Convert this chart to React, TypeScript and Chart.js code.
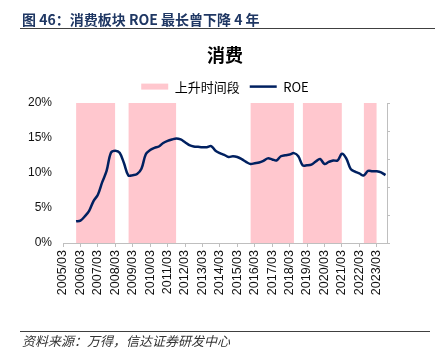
import React, { useEffect, useRef } from "react";
import { Chart, registerables } from "chart.js";

Chart.register(...registerables);

// Quarter categories of the x axis
const quarters: string[] = [
  "2005/03", "2005/06", "2005/09", "2005/12",
  "2006/03", "2006/06", "2006/09", "2006/12",
  "2007/03", "2007/06", "2007/09", "2007/12",
  "2008/03", "2008/06", "2008/09", "2008/12",
  "2009/03", "2009/06", "2009/09", "2009/12",
  "2010/03", "2010/06", "2010/09", "2010/12",
  "2011/03", "2011/06", "2011/09", "2011/12",
  "2012/03", "2012/06", "2012/09", "2012/12",
  "2013/03", "2013/06", "2013/09", "2013/12",
  "2014/03", "2014/06", "2014/09", "2014/12",
  "2015/03", "2015/06", "2015/09", "2015/12",
  "2016/03", "2016/06", "2016/09", "2016/12",
  "2017/03", "2017/06", "2017/09", "2017/12",
  "2018/03", "2018/06", "2018/09", "2018/12",
  "2019/03", "2019/06", "2019/09", "2019/12",
  "2020/03", "2020/06", "2020/09", "2020/12",
  "2021/03", "2021/06", "2021/09", "2021/12",
  "2022/03", "2022/06", "2022/09", "2022/12",
  "2023/03", "2023/06", "2023/09",
];

// Tick labels shown on the x axis
const tickLabels: string[] = [
  "2005/03", "2006/03", "2007/03", "2008/03", "2009/03", "2010/03",
  "2011/03", "2012/03", "2013/03", "2014/03", "2015/03", "2016/03",
  "2017/03", "2018/03", "2019/03", "2020/03", "2021/03", "2022/03",
  "2023/03",
];

// ROE series (%), quarterly from 2005/12 to 2023/09
const roeStart = "2005/12";
const roe: number[] = [
  3.1, 3.2, 3.8, 4.6, 6.0, 6.9, 8.7, 10.3, 12.9,
  13.2, 12.9, 11.4, 9.65, 9.7, 9.85, 10.6, 12.7, 13.3,
  13.6, 13.8, 14.3, 14.6, 14.8, 14.95, 14.8, 14.4, 14.0,
  13.8, 13.75, 13.7, 13.7, 13.85, 13.2, 12.85, 12.6, 12.3,
  12.4, 12.3, 12.0, 11.6, 11.3, 11.4, 11.5, 11.75, 12.1,
  11.95, 11.8, 12.4, 12.55, 12.65, 12.85, 12.4, 11.1, 11.1,
  11.2, 11.65, 12.0, 11.3, 11.6, 11.8, 11.8, 12.75, 12.1,
  10.6, 10.2, 9.95, 9.65, 10.3, 10.25, 10.25, 10.1, 9.7,
];

// Rising periods (上升时间段): start and end quarters
const bandStarts: string[] = ["2005/12", "2008/12", "2015/12", "2018/12", "2022/06"];
const bandEnds: string[] = ["2008/03", "2011/09", "2018/06", "2021/03", "2023/03"];
const bandTop = 20;

const yTicks = [0, 5, 10, 15, 20];

const PINK = "#FFC7CE";
const NAVY = "#002060";
const AXIS = "#BFBFBF";
const CJK = "'Noto Sans CJK SC', 'Noto Sans', sans-serif";
const LATIN = "'Liberation Sans Narrow', 'Liberation Sans', Arial, sans-serif";

export default function App() {
  const ref = useRef<HTMLCanvasElement | null>(null);

  useEffect(() => {
    if (!ref.current) return;
    const idx = (q: string) => quarters.indexOf(q);
    const start = idx(roeStart);

    const bandSets = bandStarts.map((s, i) => ({
      type: "line" as const,
      order: 1,
      data: [
        { x: idx(s), y: bandTop },
        { x: idx(bandEnds[i]), y: bandTop },
      ],
      borderColor: "rgba(0,0,0,0)",
      borderWidth: 0,
      backgroundColor: PINK,
      fill: "origin",
      pointRadius: 0,
      tension: 0,
      xAxisID: "x",
      yAxisID: "y",
    }));

    const roeSet = {
      type: "line" as const,
      order: 0,
      data: roe.map((v, i) => ({ x: start + i, y: v })),
      borderColor: NAVY,
      borderWidth: 2.5,
      backgroundColor: NAVY,
      fill: false,
      pointRadius: 0,
      tension: 0.35,
      xAxisID: "x",
      yAxisID: "y",
    };

    const chart = new Chart(ref.current, {
      type: "line",
      data: { datasets: [...bandSets, roeSet] as any },
      options: {
        animation: false,
        responsive: false,
        maintainAspectRatio: false,
        layout: { padding: 0 },
        plugins: {
          title: {
            display: true,
            fullSize: false,
            text: "消费",
            color: "#000",
            font: { family: CJK, size: 18, weight: "bold" },
            padding: { top: 44, bottom: 4.5 },
          },
          legend: {
            display: true,
            fullSize: false,
            labels: {
              usePointStyle: true,
              pointStyleWidth: 27,
              boxWidth: 27,
              boxHeight: 6,
              padding: 10,
              color: "#222",
              font: { family: CJK, size: 13 },
              generateLabels: () => [
                {
                  text: "上升时间段",
                  fillStyle: PINK,
                  strokeStyle: PINK,
                  lineWidth: 0,
                  pointStyle: "rect",
                  datasetIndex: 0,
                  hidden: false,
                } as any,
                {
                  text: "ROE",
                  fillStyle: NAVY,
                  strokeStyle: NAVY,
                  lineWidth: 2.5,
                  pointStyle: "line",
                  datasetIndex: bandSets.length,
                  hidden: false,
                } as any,
              ],
            },
          },
          tooltip: { enabled: false },
        },
        scales: {
          x: {
            type: "linear",
            min: 0,
            max: 74.35,
            afterBuildTicks: (s: any) => {
              s.ticks = tickLabels.map((l) => ({ value: idx(l) }));
            },
            afterFit: (s: any) => {
              s.height = 118;
            },
            ticks: {
              autoSkip: false,
              minRotation: 90,
              maxRotation: 90,
              padding: 3,
              color: "#111",
              font: { family: "'Liberation Sans', Arial, sans-serif", size: 12.5 },
              callback: (v: any) => quarters[Number(v)],
            },
            grid: {
              display: true,
              drawOnChartArea: false,
              drawTicks: true,
              tickLength: 4,
              color: AXIS,
            },
            border: { display: true, color: AXIS },
          },
          y: {
            position: "left",
            min: 0,
            max: 20,
            afterBuildTicks: (s: any) => {
              s.ticks = yTicks.map((v) => ({ value: v }));
            },
            afterFit: (s: any) => {
              s.width = 63;
            },
            ticks: {
              padding: 11,
              color: "#111",
              font: { family: LATIN, size: 12 },
              callback: (v: any) => `${v}%`,
            },
            grid: { display: false, drawTicks: false },
            border: { display: false },
          },
          y2: {
            position: "right",
            min: 0,
            max: 20,
            ticks: { display: false, stepSize: 4 },
            afterFit: (s: any) => {
              s.width = 48;
            },
            grid: {
              display: true,
              drawOnChartArea: false,
              drawTicks: true,
              tickLength: 3,
              color: AXIS,
            },
            border: { display: true, color: AXIS },
          },
        },
      } as any,
    });
    return () => chart.destroy();
  }, []);

  return (
    <div
      style={{
        position: "fixed",
        left: 0,
        top: 0,
        width: 435,
        height: 361,
        background: "#fff",
        overflow: "hidden",
      }}
    >
      <canvas
        ref={ref}
        width={435}
        height={361}
        style={{ position: "absolute", left: 0, top: 0, width: 435, height: 361 }}
      />
      <div
        style={{
          position: "absolute",
          left: 22,
          top: 11,
          height: 17,
          lineHeight: "17px",
          fontFamily: CJK,
          fontWeight: "bold",
          fontSize: 14,
          color: "#1F3763",
          whiteSpace: "nowrap",
        }}
      >
        图 46：消费板块 ROE 最长曾下降 4 年
      </div>
      <div
        style={{
          position: "absolute",
          left: 20,
          top: 28,
          width: 415,
          height: 1,
          background: "#404040",
        }}
      />
      <div
        style={{
          position: "absolute",
          left: 20,
          top: 331,
          width: 410,
          height: 1,
          background: "#404040",
        }}
      />
      <div
        style={{
          position: "absolute",
          left: 22,
          top: 333,
          height: 16,
          lineHeight: "16px",
          fontFamily: CJK,
          fontStyle: "italic",
          fontSize: 13,
          color: "#333",
          whiteSpace: "nowrap",
        }}
      >
        资料来源：万得，信达证券研发中心
      </div>
    </div>
  );
}
